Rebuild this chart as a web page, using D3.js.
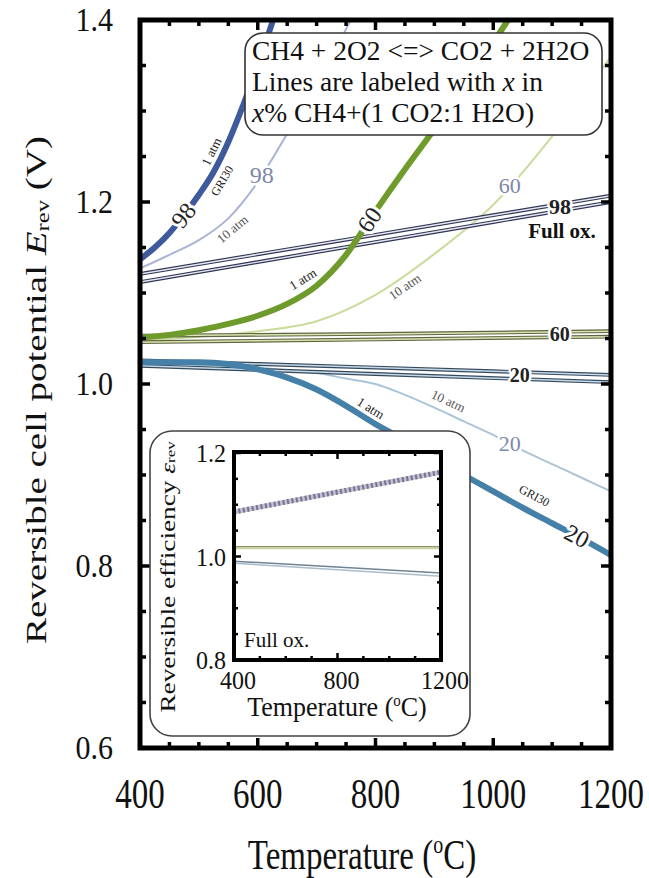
<!DOCTYPE html>
<html><head><meta charset="utf-8">
<script src="https://cdn.jsdelivr.net/npm/d3@7"></script>
<style>
body{margin:0;background:#fff}
svg{display:block}
text{font-family:"Liberation Serif","Times New Roman",serif;fill:#111}
</style>
</head><body>
<svg id="c" width="649" height="878" font-family="Liberation Serif"></svg>
<script>
// ---------------- data ----------------
const xTicks = [400, 600, 800, 1000, 1200];
const xTickLabels = ["400", "600", "800", "1000", "1200"];
const yTicks = [0.6, 0.8, 1.0, 1.2, 1.4];
const yTickLabels = ["0.6", "0.8", "1.0", "1.2", "1.4"];

// 98% CH4
const T98atm1 = [400, 425, 450, 475, 500, 525, 550, 575, 600, 625, 650];
const V98atm1 = [1.137, 1.150, 1.166, 1.186, 1.208, 1.233, 1.266, 1.306, 1.350, 1.398, 1.45];
const T98atm10 = [400, 450, 500, 550, 600, 650, 700, 750, 800];
const V98atm10 = [1.127, 1.142, 1.158, 1.182, 1.222, 1.275, 1.330, 1.390, 1.45];
// 60% CH4
const T60atm1 = [400, 450, 500, 550, 600, 650, 700, 750, 800, 850, 900, 950, 1000, 1050];
const V60atm1 = [1.051, 1.054, 1.059, 1.066, 1.075, 1.088, 1.108, 1.142, 1.190, 1.236, 1.280, 1.325, 1.375, 1.425];
const T60atm10 = [400, 500, 600, 700, 800, 900, 1000, 1100, 1200];
const V60atm10 = [1.048, 1.052, 1.058, 1.069, 1.098, 1.143, 1.197, 1.272, 1.36];
// 20% CH4
const T20 = [400, 450, 500, 550, 600, 650, 700, 750, 800, 850, 900, 950, 1000, 1050, 1100, 1150, 1200];
const V20atm1 = [1.024, 1.024, 1.024, 1.022, 1.016, 1.007, 0.994, 0.976, 0.956, 0.938, 0.919, 0.900, 0.882, 0.864, 0.847, 0.830, 0.812];
const V20atm10 = [1.022, 1.022, 1.021, 1.020, 1.018, 1.015, 1.012, 1.006, 1.000, 0.988, 0.974, 0.959, 0.944, 0.927, 0.912, 0.897, 0.882];
// full oxidation
const TFull = [400, 800, 1200];
const V98fullA = [1.121, 1.164, 1.207];
const V98fullB = [1.112, 1.156, 1.200];
const V60fullA = [1.053, 1.055, 1.058];
const V60fullB = [1.046, 1.049, 1.052];
const V20fullA = [1.026, 1.018, 1.010];
const V20fullB = [1.020, 1.011, 1.002];

// inset: reversible efficiency, full oxidation
const inXTicks = [400, 800, 1200];
const inYTicks = [0.8, 1.0, 1.2];
const inYTickLabels = ["0.8", "1.0", "1.2"];
const TIn = [400, 1200];
const E98 = [1.086, 1.163];
const E60A = [1.019, 1.019];
const E60B = [1.016, 1.016];
const E20A = [0.991, 0.968];
const E20B = [0.987, 0.962];

const legendLines = ["CH4 + 2O2 <=> CO2 + 2H2O", "Lines are labeled with ", "x", " in", "x", "% CH4+(1 CO2:1 H2O)"];

// ---------------- drawing ----------------
const svg = d3.select("#c");
const x = d3.scaleLinear([400, 1200], [140, 611]);
const y = d3.scaleLinear([0.6, 1.4], [748, 20]);

svg.append("defs").append("clipPath").attr("id", "clip")
  .append("rect").attr("x", 140).attr("y", 20).attr("width", 471).attr("height", 728);

const plot = svg.append("g").attr("clip-path", "url(#clip)");
const line = d3.line().x(d => x(d[0])).y(d => y(d[1])).curve(d3.curveMonotoneX);
const zip = (T, V) => T.map((t, i) => [t, V[i]]);

function drawLine(T, V, color, w) {
  plot.append("path").attr("d", line(zip(T, V))).attr("fill", "none")
    .attr("stroke", color).attr("stroke-width", w).attr("stroke-linecap", "butt");
}
function drawFull(T, V, outer, inner) {
  plot.append("path").attr("d", line(zip(T, V))).attr("fill", "none").attr("stroke", outer).attr("stroke-width", 3.8);
  plot.append("path").attr("d", line(zip(T, V))).attr("fill", "none").attr("stroke", inner).attr("stroke-width", 1.5);
}

// thin (10 atm) lines
drawLine(T98atm10, V98atm10, "#aab3d6", 2);
drawLine(T60atm10, V60atm10, "#c9dc9c", 2);
drawLine(T20, V20atm10, "#a9c5d8", 2);
// full oxidation bands
drawFull(TFull, V98fullA, "#2f3552", "#e6e6f2");
drawFull(TFull, V98fullB, "#2f3552", "#e6e6f2");
drawFull(TFull, V60fullA, "#5f6440", "#d9e4b2");
drawFull(TFull, V60fullB, "#5f6440", "#d9e4b2");
drawFull(TFull, V20fullA, "#33495e", "#c8d8e4");
drawFull(TFull, V20fullB, "#33495e", "#c8d8e4");
// thick (1 atm, GRI30) lines
drawLine(T98atm1, V98atm1, "#3f5a9c", 6);
drawLine(T60atm1, V60atm1, "#6f9a2c", 6);
drawLine(T20, V20atm1, "#4580a8", 6);

// labels along lines
const lab = svg.append("g");
function label(T, V, t, txt, o) {
  const f = d3.scaleLinear(T, V).clamp(true);
  const px = x(t), py = y(f(t));
  const x1 = x(t - 8), y1 = y(f(t - 8)), x2 = x(t + 8), y2 = y(f(t + 8));
  const ang = Math.atan2(y2 - y1, x2 - x1);
  const off = o.off || 0;
  const cx = px - Math.sin(ang) * off, cy = py + Math.cos(ang) * off;
  const deg = o.rot === false ? 0 : ang * 180 / Math.PI;
  lab.append("text")
    .attr("transform", `translate(${cx},${cy}) rotate(${deg})`)
    .attr("text-anchor", "middle").attr("dominant-baseline", "central")
    .attr("font-size", o.size || 13).attr("font-weight", o.bold ? "bold" : "normal")
    .style("fill", o.color || "#222")
    .attr("stroke", o.halo === 0 ? "none" : "#fff").attr("stroke-width", o.halo || 4)
    .attr("paint-order", "stroke").attr("stroke-linejoin", "round")
    .text(txt);
}
// 98
label(T98atm1, V98atm1, 474, "98", {size: 24, halo: 6});
label(T98atm1, V98atm1, 538, "1 atm", {size: 13, off: -11, halo: 0});
label(T98atm1, V98atm1, 522, "GRI30", {size: 12, off: 12, halo: 0});
label(T98atm10, V98atm10, 607, "98", {size: 24, rot: false, color: "#7d88a8", halo: 5});
label(T98atm10, V98atm10, 545, "10 atm", {size: 13, off: 11, color: "#555", halo: 0});
// 60
label(T60atm1, V60atm1, 790, "60", {size: 24, halo: 6});
label(T60atm1, V60atm1, 688, "1 atm", {size: 13, off: -13, halo: 0});
label(T60atm10, V60atm10, 1028, "60", {size: 22, rot: false, color: "#7d88a8", halo: 5});
label(T60atm10, V60atm10, 840, "10 atm", {size: 13, off: 10, color: "#555", halo: 0});
// 20
label(T20, V20atm1, 1142, "20", {size: 24, halo: 6});
label(T20, V20atm1, 1057, "GRI30", {size: 12, off: -16, halo: 0});
label(T20, V20atm1, 782, "1 atm", {size: 13, off: -11, halo: 0});
label(T20, V20atm10, 1028, "20", {size: 22, rot: false, color: "#7d88a8", halo: 5});
label(T20, V20atm10, 915, "10 atm", {size: 13, off: -12, color: "#555", halo: 0});
// full oxidation labels
label(TFull, V98fullA, 1113, "98", {size: 22, rot: false, bold: true, off: 2, halo: 5});
label(TFull, V60fullA, 1113, "60", {size: 20, rot: false, bold: true, off: 2, halo: 5});
label(TFull, V20fullA, 1045, "20", {size: 20, rot: false, bold: true, off: 3, halo: 5});
lab.append("text").attr("x", 562).attr("y", 238).attr("text-anchor", "middle")
  .attr("font-size", 21).attr("font-weight", "bold").text("Full ox.");

// frame + ticks
const fr = svg.append("g");
fr.append("rect").attr("x", 140).attr("y", 20).attr("width", 471).attr("height", 728)
  .attr("fill", "none").attr("stroke", "#000").attr("stroke-width", 5);
for (let t = 400; t <= 1200; t += 50) {
  const major = t % 200 === 0, L = major ? 10 : 6;
  fr.append("line").attr("x1", x(t)).attr("x2", x(t)).attr("y1", 748).attr("y2", 748 - L).attr("stroke", "#000").attr("stroke-width", 3.5);
  fr.append("line").attr("x1", x(t)).attr("x2", x(t)).attr("y1", 20).attr("y2", 20 + L).attr("stroke", "#000").attr("stroke-width", 3.5);
}
for (let i = 0; i <= 16; i++) {
  const v = 0.6 + i * 0.05, major = i % 4 === 0, L = major ? 10 : 6;
  fr.append("line").attr("x1", 140).attr("x2", 140 + L).attr("y1", y(v)).attr("y2", y(v)).attr("stroke", "#000").attr("stroke-width", 3.5);
  fr.append("line").attr("x1", 611).attr("x2", 611 - L).attr("y1", y(v)).attr("y2", y(v)).attr("stroke", "#000").attr("stroke-width", 3.5);
}
// tick labels
xTicks.forEach((t, i) => {
  fr.append("text").attr("transform", `translate(${x(t)},808) scale(1,1.25)`)
    .attr("text-anchor", "middle").attr("font-size", 33).text(xTickLabels[i]);
});
yTicks.forEach((v, i) => {
  fr.append("text").attr("transform", `translate(113,${y(v) + 11}) scale(1,1.1)`)
    .attr("text-anchor", "end").attr("font-size", 30).text(yTickLabels[i]);
});
// axis titles
const xt = fr.append("text").attr("transform", `translate(362,869) scale(1,1.25)`)
  .attr("text-anchor", "middle").attr("font-size", 33);
xt.append("tspan").text("Temperature (");
xt.append("tspan").attr("font-size", 20).attr("dy", -13).text("o");
xt.append("tspan").attr("dy", 13).text("C)");
const yt = fr.append("text").attr("transform", `translate(36,390) scale(1,1.3) rotate(-90)`)
  .attr("text-anchor", "middle").attr("dominant-baseline", "central").attr("font-size", 30);
yt.append("tspan").text("Reversible cell potential ");
yt.append("tspan").attr("font-style", "italic").text("E");
yt.append("tspan").attr("font-size", 19).attr("dy", 6).text("rev");
yt.append("tspan").attr("dy", -6).text(" (V)");

// legend box
const lg = svg.append("g");
lg.append("rect").attr("x", 245).attr("y", 33).attr("width", 357).attr("height", 102).attr("rx", 18)
  .attr("fill", "#fff").attr("stroke", "#333").attr("stroke-width", 1.6);
lg.append("text").attr("x", 252).attr("y", 60).attr("font-size", 27.5).text(legendLines[0]);
const l2 = lg.append("text").attr("x", 252).attr("y", 91).attr("font-size", 27.5);
l2.append("tspan").text(legendLines[1]);
l2.append("tspan").attr("font-style", "italic").text(legendLines[2]);
l2.append("tspan").text(legendLines[3]);
const l3 = lg.append("text").attr("x", 252).attr("y", 122).attr("font-size", 27.5);
l3.append("tspan").attr("font-style", "italic").text(legendLines[4]);
l3.append("tspan").text(legendLines[5]);

// inset
const ins = svg.append("g");
ins.append("rect").attr("x", 150).attr("y", 431).attr("width", 320).attr("height", 305).attr("rx", 22)
  .attr("fill", "#fff").attr("stroke", "#444").attr("stroke-width", 1.6);
const xi = d3.scaleLinear([400, 1200], [234, 441]);
const yi = d3.scaleLinear([0.8, 1.2], [660, 453]);
const lineI = d3.line().x(d => xi(d[0])).y(d => yi(d[1]));
ins.append("path").attr("d", lineI(zip(TIn, E98))).attr("stroke", "#c4c0d2").attr("stroke-width", 5).attr("fill", "none");
ins.append("path").attr("d", lineI(zip(TIn, E98))).attr("stroke", "#77738f").attr("stroke-width", 5).attr("stroke-dasharray", "2,2.5").attr("fill", "none");
ins.append("path").attr("d", lineI(zip(TIn, E60A))).attr("stroke", "#8f9465").attr("stroke-width", 1.5).attr("fill", "none");
ins.append("path").attr("d", lineI(zip(TIn, E60B))).attr("stroke", "#c8d4a2").attr("stroke-width", 2).attr("fill", "none");
ins.append("path").attr("d", lineI(zip(TIn, E20A))).attr("stroke", "#6e8394").attr("stroke-width", 1.5).attr("fill", "none");
ins.append("path").attr("d", lineI(zip(TIn, E20B))).attr("stroke", "#a9bccb").attr("stroke-width", 1.5).attr("fill", "none");
ins.append("rect").attr("x", 234).attr("y", 452).attr("width", 207).attr("height", 208)
  .attr("fill", "none").attr("stroke", "#000").attr("stroke-width", 4);
for (let t = 400; t <= 1200; t += 100) {
  const L = t % 400 === 0 ? 7 : 4;
  ins.append("line").attr("x1", xi(t)).attr("x2", xi(t)).attr("y1", 660).attr("y2", 660 - L).attr("stroke", "#000").attr("stroke-width", 2.5);
  ins.append("line").attr("x1", xi(t)).attr("x2", xi(t)).attr("y1", 452).attr("y2", 452 + L).attr("stroke", "#000").attr("stroke-width", 2.5);
}
for (let i = 0; i <= 8; i++) {
  const v = 0.8 + i * 0.05, L = i % 4 === 0 ? 7 : 4;
  ins.append("line").attr("x1", 234).attr("x2", 234 + L).attr("y1", yi(v)).attr("y2", yi(v)).attr("stroke", "#000").attr("stroke-width", 2.5);
  ins.append("line").attr("x1", 441).attr("x2", 441 - L).attr("y1", yi(v)).attr("y2", yi(v)).attr("stroke", "#000").attr("stroke-width", 2.5);
}
inXTicks.forEach(t => {
  ins.append("text").attr("transform", `translate(${xi(t) + 4},689) scale(1,1.05)`)
    .attr("text-anchor", "middle").attr("font-size", 24).text(String(t));
});
inYTicks.forEach((v, i) => {
  ins.append("text").attr("transform", `translate(226,${yi(v) + 9}) scale(1,1.05)`)
    .attr("text-anchor", "end").attr("font-size", 24).text(inYTickLabels[i]);
});
ins.append("text").attr("x", 244).attr("y", 647).attr("font-size", 21).text("Full ox.");
const ixt = ins.append("text").attr("transform", `translate(337,716) scale(1,1.05)`)
  .attr("text-anchor", "middle").attr("font-size", 26);
ixt.append("tspan").text("Temperature (");
ixt.append("tspan").attr("font-size", 15).attr("dy", -10).text("o");
ixt.append("tspan").attr("dy", 10).text("C)");
const iyt = ins.append("text").attr("transform", `translate(167,577) scale(1,1.3) rotate(-90)`)
  .attr("text-anchor", "middle").attr("dominant-baseline", "central").attr("font-size", 21);
iyt.append("tspan").text("Reversible efficiency ");
iyt.append("tspan").attr("font-style", "italic").text("ε");
iyt.append("tspan").attr("font-size", 13).attr("dy", 4).text("rev");
</script>
</body></html>
